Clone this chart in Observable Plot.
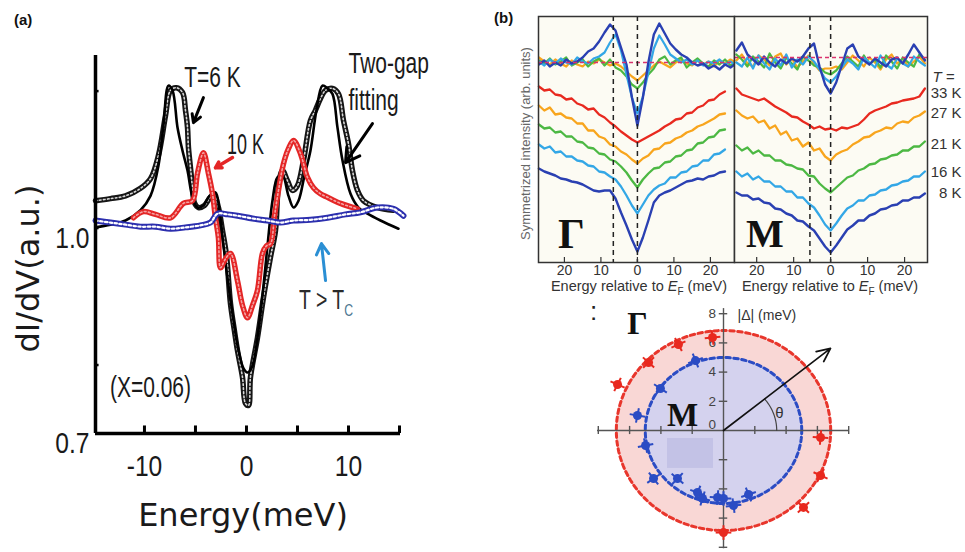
<!DOCTYPE html>
<html><head><meta charset="utf-8">
<script src="https://cdn.jsdelivr.net/npm/d3@7"></script>
<script src="https://cdn.jsdelivr.net/npm/@observablehq/plot@0.6"></script>
<style>
html,body{margin:0;padding:0;background:#fff;}
#fig{position:relative;width:965px;height:552px;overflow:hidden;background:#fff;font-family:"Liberation Sans",Arial,sans-serif;}
#fig > svg{position:absolute;overflow:visible;}
#fig > .ov{position:absolute;white-space:nowrap;}
</style></head><body><div id="fig"></div>
<script>
// ---------------- Panel (a): tunneling spectra ----------------
const t6Data = [[-14.8,1.040],[-13.33,1.043],[-11.86,1.047],[-10.39,1.058],[-9.41,1.072],[-8.63,1.106],[-7.94,1.164],[-7.45,1.201],[-6.86,1.205],[-6.27,1.198],[-5.98,1.172],[-5.78,1.147],[-5.69,1.118],[-5.49,1.088],[-5.29,1.059],[-5.10,1.037],[-4.71,1.030],[-4.12,1.033],[-3.53,1.045],[-3.14,1.047],[-2.75,1.030],[-2.35,0.996],[-1.96,0.960],[-1.57,0.890],[-1.18,0.850],[-0.88,0.821],[-0.39,0.782],[-0.10,0.744],[0.20,0.741],[0.39,0.782],[1.08,0.840],[1.67,0.899],[2.35,0.957],[2.84,0.996],[3.14,1.062],[3.53,1.084],[4.02,1.069],[4.51,1.055],[5.00,1.062],[5.59,1.099],[6.27,1.157],[6.76,1.172],[7.25,1.189],[7.75,1.201],[8.43,1.204],[9.02,1.196],[9.51,1.157],[10.00,1.123],[10.39,1.084],[10.88,1.055],[11.47,1.040],[12.84,1.030],[14.41,1.026]];
const fitData = [[-14.8,1.001],[-13.33,1.005],[-11.86,1.011],[-10.39,1.026],[-9.41,1.047],[-8.63,1.091],[-8.14,1.150],[-7.65,1.208],[-7.25,1.201],[-6.76,1.147],[-6.27,1.113],[-5.78,1.084],[-5.29,1.045],[-4.80,1.030],[-4.22,1.033],[-3.63,1.047],[-3.04,1.052],[-2.65,1.026],[-2.25,0.974],[-1.76,0.916],[-1.27,0.865],[-0.78,0.821],[-0.29,0.795],[0.10,0.789],[0.59,0.799],[1.08,0.840],[1.57,0.901],[2.06,0.974],[2.55,1.040],[3.04,1.074],[3.53,1.077],[4.12,1.047],[4.61,1.030],[5.10,1.040],[5.69,1.077],[6.27,1.113],[6.86,1.172],[7.45,1.208],[7.94,1.204],[8.43,1.196],[8.92,1.147],[9.41,1.099],[10.20,1.050],[10.98,1.030],[11.86,1.021],[13.14,1.011],[14.90,0.999]];
const t10Data = [[-11.08,1.015],[-10.10,1.024],[-8.92,1.020],[-7.45,1.015],[-6.18,1.036],[-5.29,1.040],[-4.80,1.080],[-4.22,1.110],[-3.73,1.080],[-3.33,1.050],[-3.04,1.015],[-2.75,0.986],[-2.55,0.942],[-2.06,0.955],[-1.57,0.963],[-0.88,0.923],[-0.39,0.887],[0.10,0.869],[0.59,0.887],[1.08,0.909],[1.57,0.963],[1.96,0.974],[2.35,0.977],[2.75,1.018],[3.14,1.055],[3.63,1.094],[4.12,1.116],[4.61,1.128],[5.29,1.109],[5.98,1.074],[6.57,1.059],[7.25,1.050],[7.94,1.045],[9.22,1.036],[10.88,1.028]];
const tNormalData = [[-14.8,1.011],[-13.33,1.008],[-11.86,1.005],[-10.39,1.002],[-8.92,1.002],[-7.45,0.999],[-5.98,1.001],[-4.51,1.004],[-3.53,1.008],[-2.84,1.021],[-1.86,1.020],[-0.88,1.018],[0.59,1.014],[2.06,1.011],[3.33,1.008],[4.61,1.011],[6.27,1.012],[7.94,1.015],[9.71,1.020],[11.18,1.023],[12.84,1.030],[14.41,1.028],[15.39,1.018]];
const aXTicks = [-10, -5, 0, 5, 10, 15];
const aXTickLabels = [{v: -10, t: "-10"}, {v: 0, t: "0"}, {v: 10, t: "10"}];
const aYTicks = [0.8, 1.0, 1.2];
const aYTickLabels = [{v: 0.7, t: "0.7"}, {v: 1.0, t: "1.0"}];
const aNotes = [
  {t: "T=6 K", x: -3.33, y: 1.2197, anchor: "middle"},
  {t: "10 K", x: -0.1, y: 1.122, anchor: "middle"},
  {t: "Two-gap", x: 10.0, y: 1.240, anchor: "start"},
  {t: "fitting", x: 10.0, y: 1.186, anchor: "start"},
  {t: "(X=0.06)", x: -9.41, y: 0.767, anchor: "middle"}
];
const aArrowsBlack = [{x1: -4.22, y1: 1.1905, x2: -5.20, y2: 1.154}, {x1: 12.35, y1: 1.1526, x2: 9.71, y2: 1.0956}];
const aArrowsRed = [{x1: -1.37, y1: 1.103, x2: -3.04, y2: 1.088}];
const aArrowsBlue = [{x1: 7.75, y1: 0.9234, x2: 7.35, y2: 0.9774}];

// ---------------- Panel (b): ARPES symmetrized EDCs ----------------
const gammaEnergies = [-27,-25.5,-24,-22.5,-21,-19.5,-18,-16.5,-15,-13.5,-12,-10.5,-9,-7.5,-6,-4.5,-3,-1.5,0,1.5,3,4.5,6,7.5,9,10.5,12,13.5,15,16.5,18,19.5,21,22.5,24];
const gamma33K = [176,172,173,168,167,163,164,159,157,153,154,148,145,140,136,131,127,123,120,123,126,129,132,136,139,143,144,149,150,155,157,162,163,168,171];
const gamma27K = [157,152,155,148,149,145,144,139,139,132,132,126,124,118,116,111,108,103,99,104,107,113,114,119,120,124,126,130,132,136,138,141,144,148,149];
const gamma21K = [138,134,135,130,131,126,126,121,120,115,114,109,108,103,101,96,90,82,75,83,89,94,95,100,101,106,107,112,113,119,120,125,126,132,133];
const gamma16K = [118,114,116,110,111,106,106,102,101,97,96,91,90,86,83,76,67,57,49,58,67,73,77,79,85,85,90,91,96,97,102,102,108,109,113];
const gamma8K = [94,91,89,87,84,83,81,80,78,75,72,71,72,72,64,50,37,23,11,25,42,60,67,70,72,75,78,81,82,84,83,86,87,90,91];
const gammaTopEnergies = [-27,-25.5,-24,-22.5,-21,-19.5,-18,-16.5,-15,-13.5,-12,-10.5,-9,-7.5,-6,-4.5,-3,-1.5,0,1.5,3,4.5,6,7.5,9,10.5,12,13.5,15,16.5,18,19.5,21,22.5,24,25.5,27];
const gammaTopOrange = [205,201,198,203,199,196,202,198,196,201,199,203,200,197,199,196,191,186,182,187,192,197,201,198,195,200,203,199,197,202,198,201,196,202,199,203,200];
const gammaTopGreen = [202,199,204,198,201,205,197,200,203,196,201,204,197,203,195,192,186,178,174,180,188,194,203,206,198,202,205,195,200,204,199,196,202,198,203,197,200];
const gammaTopLightBlue = [201,197,203,199,204,200,198,205,201,199,204,206,210,220,228,212,188,165,149,166,190,214,227,218,208,204,200,203,198,202,197,201,199,203,198,201,197];
const gammaTopDarkBlue = [198,202,196,200,197,203,199,201,205,211,214,221,230,238,232,215,198,165,137,165,200,228,239,229,219,213,208,205,200,197,199,194,197,193,198,195,199];
const gammaBaseline = 200;
const gammaGuides = [-6.6, 0];

const mEnergies = [-25.5,-24,-22.5,-21,-19.5,-18,-16.5,-15,-13.5,-12,-10.5,-9,-7.5,-6,-4.5,-3,-1.5,0,1.5,3,4.5,6,7.5,9,10.5,12,13.5,15,16.5,18,19.5,21,22.5,24,25.5];
const m33K = [174,168,166,164,162,164,160,156,153,150,146,145,141,138,134,136,133,134,132,135,134,136,138,143,149,152,154,156,159,160,162,163,164,166,174];
const m27K = [152,147,144,146,140,142,134,137,128,131,122,124,116,120,112,114,106,102,108,111,113,118,121,125,126,130,132,135,134,139,141,140,145,147,151];
const m21K = [117,112,115,109,112,107,107,102,102,98,97,94,93,87,86,79,74,70,75,80,85,87,92,94,98,99,103,104,107,108,112,112,116,116,121];
const m16K = [91,86,89,83,86,81,81,76,76,71,71,65,65,59,55,47,38,32,39,47,54,57,62,62,67,68,72,73,77,78,81,82,86,86,91];
const m8K = [70,67,67,63,64,60,59,54,53,49,47,42,41,36,32,24,16,10,17,25,33,37,42,42,47,49,53,54,57,58,62,62,65,65,69];
const mTopOrange = [202,208,199,196,207,203,197,206,209,198,204,195,201,207,199,192,194,194,196,193,200,207,202,196,205,200,193,203,208,199,204,196,201,206,199];
const mTopGreen = [208,203,196,206,201,195,209,200,194,205,199,193,206,202,197,195,190,188,192,199,206,201,196,207,198,203,195,207,201,194,205,200,196,208,203];
const mTopLightBlue = [200,196,205,194,207,199,193,204,197,208,195,203,198,206,201,193,184,180,186,195,203,199,193,205,200,195,207,198,194,204,199,196,206,201,197];
const mTopDarkBlue = [212,220,208,203,198,206,200,196,203,199,204,201,206,214,219,196,178,169,180,197,214,218,206,202,198,204,200,196,203,205,199,208,218,210,202];
const mBaseline = 205;
const mGuides = [-5.6, 0];

const bTickValues = [-20, -10, 0, 10, 20];
const bTickLabels = ["20", "10", "0", "10", "20"];
const tempLabels = ["33 K", "27 K", "21 K", "16 K", "8 K"];
const tempLabelLevels = [169, 149, 118, 90, 69];

// ---------------- Polar gap plot ----------------
const gammaGapX = [-0.70,-2.88,-4.79,-6.77,6.20,6.20,5.11,0];
const gammaGapY = [6.37,5.89,4.66,3.15,-0.48,-3.08,-5.27,-6.99];
const mGapX = [-1.79,-4.03,-5.50,-4.98,-4.47,-2.94,-1.66,-1.34,-0.38,0,0.64,1.60];
const mGapY = [4.79,2.88,1.03,-1.03,-3.29,-3.29,-4.25,-4.66,-4.59,-4.66,-5.14,-4.38];
const gammaRingRadius = 6.85;
const mRingRadius = 5.0;
const gapError = 0.5;
const polarTicks = [-8, -6, -4, -2, 2, 4, 6, 8];
const polarTickLabels = [8, 6, 4, 2];
const thetaArrowTip = {x: 6.84, y: 5.62};

// ---------------- helpers ----------------
const SANS = "'Liberation Sans',Arial,sans-serif";
const DJV = "'DejaVu Sans',sans-serif";
const SERIF = "'Liberation Serif','DejaVu Serif',serif";
const fig = document.getElementById("fig");
function place(svg, left, top) { svg.style.left = left + "px"; svg.style.top = top + "px"; fig.appendChild(svg); }
function addDiv(html, style) { const d = document.createElement("div"); d.className = "ov"; d.innerHTML = html; Object.assign(d.style, style); fig.appendChild(d); }
const pairs = arr => arr.map(([x, y]) => ({x, y}));
const series = (xs, ys) => xs.map((x, i) => ({x, y: ys[i]}));
// horizontally condense the glyphs of one mark (the reference uses a condensed face)
function squeeze(svg, tag, k) {
  svg.querySelectorAll(`g[aria-description="${tag}"] text`).forEach(t => {
    const tr = t.getAttribute("transform");
    if (tr) t.setAttribute("transform", tr + ` scale(${k},1)`);
    else {
      const x = +t.getAttribute("x") || 0, y = +t.getAttribute("y") || 0;
      t.setAttribute("transform", `translate(${x},${y}) scale(${k},1) translate(${-x},${-y})`);
    }
  });
}

// ---------------- Panel (a) ----------------
const aX = [-14.8, 15.1], aY = [0.7, 1.252];
function chain(data, outer, inner, w, iw, dash) {
  return [
    Plot.line(data, {x: "x", y: "y", stroke: outer, strokeWidth: w, curve: "catmull-rom"}),
    Plot.line(data, {x: "x", y: "y", stroke: inner, strokeWidth: iw, strokeDasharray: dash, curve: "catmull-rom"})
  ];
}
const plotA = Plot.plot({
  width: 480, height: 552, marginTop: 55, marginBottom: 119, marginLeft: 95, marginRight: 80,
  x: {domain: aX, axis: null}, y: {domain: aY, axis: null},
  style: {background: "transparent", overflow: "visible"},
  marks: [
    ...chain(pairs(t6Data), "#151515", "#d8d8d8", 5.5, 1.6, "1.6,2.4"),
    Plot.line(pairs(fitData), {x: "x", y: "y", stroke: "#000", strokeWidth: 2.6, curve: "catmull-rom"}),
    ...chain(pairs(t10Data), "#e42626", "#f4a3a3", 5.5, 1.6, "1.8,2.4"),
    ...chain(pairs(tNormalData), "#2c2fae", "#ffffff", 6, 2.2, "2.4,2.4"),
    Plot.ruleX([aX[0]], {y1: aY[0], y2: aY[1], stroke: "#000", strokeWidth: 3.5}),
    Plot.ruleY([aY[0]], {x1: aX[0], x2: aX[1], stroke: "#000", strokeWidth: 3.5}),
    Plot.ruleX(aXTicks, {y1: 0.7, y2: 0.711, stroke: "#000", strokeWidth: 3}),
    Plot.ruleY(aYTicks, {x1: aX[0], x2: aX[0] + 0.35, stroke: "#000", strokeWidth: 2.5}),
    Plot.text(aXTickLabels, {ariaDescription: "nar85", x: "v", y: 0.7, text: "t", dy: 33, fontSize: 30, fontFamily: SANS, fill: "#1a1a1a"}),
    Plot.text(aYTickLabels, {ariaDescription: "nar85", x: aX[0], y: "v", text: "t", textAnchor: "end", dx: -6, dy: 10, fontSize: 30, fontFamily: SANS, fill: "#1a1a1a"}),
    Plot.text(["Energy(meV)"], {text: d => d, frameAnchor: "bottom", lineAnchor: "middle", textAnchor: "middle", dx: -5, dy: 82, fontSize: 32, fontFamily: DJV, fill: "#1a1a1a"}),
    Plot.text(["dI/dV(a.u.)"], {text: d => d, frameAnchor: "left", textAnchor: "middle", lineAnchor: "middle", rotate: -90, dx: -67, dy: 24, fontSize: 32, fontFamily: DJV, fill: "#1a1a1a"}),
    Plot.text(aNotes.filter(d => d.t === "T=6 K" || d.t === "(X=0.06)"), {ariaDescription: "nar70", x: "x", y: "y", text: "t", fontSize: 30, fontFamily: SANS, fill: "#1a1a1a"}),
    Plot.text(aNotes.filter(d => d.t === "10 K"), {ariaDescription: "nar60", x: "x", y: "y", text: "t", fontSize: 29, fontFamily: SANS, fill: "#1a1a1a"}),
    Plot.text(aNotes.filter(d => d.anchor === "start"), {ariaDescription: "nar70", x: "x", y: "y", text: "t", textAnchor: "start", fontSize: 30, fontFamily: SANS, fill: "#1a1a1a"}),
    Plot.arrow(aArrowsBlack, {x1: "x1", y1: "y1", x2: "x2", y2: "y2", stroke: "#000", strokeWidth: 3, headLength: 11}),
    Plot.arrow(aArrowsRed, {x1: "x1", y1: "y1", x2: "x2", y2: "y2", stroke: "#e42626", strokeWidth: 3.5, headLength: 11}),
    Plot.arrow(aArrowsBlue, {x1: "x1", y1: "y1", x2: "x2", y2: "y2", stroke: "#2b8fd4", strokeWidth: 3, headLength: 10})
  ]
});
squeeze(plotA, "nar85", 0.82);
squeeze(plotA, "nar70", 0.7);
squeeze(plotA, "nar60", 0.62);
place(plotA, 0, 0);

// ---------------- Panel (b) EDCs ----------------
const C = {red: "#e8291f", orange: "#f8a51d", green: "#4cb843", light: "#33a7e6", dark: "#2a40b2"};
function edcMarks(energies, offs, topE, tops, baseline, guides) {
  const [r, o, g, l, d] = offs;
  const [to, tg, tl, td] = tops;
  return [
    Plot.frame({fill: "#fcfbf3", stroke: "none"}),
    Plot.line(series(topE, to), {x: "x", y: "y", stroke: C.orange, strokeWidth: 2.2, clip: true}),
    Plot.line(series(topE, tg), {x: "x", y: "y", stroke: C.green, strokeWidth: 2.2, clip: true}),
    Plot.line(series(topE, tl), {x: "x", y: "y", stroke: C.light, strokeWidth: 2.2, clip: true}),
    Plot.line(series(topE, td), {x: "x", y: "y", stroke: C.dark, strokeWidth: 2.4, clip: true}),
    Plot.ruleY([baseline], {stroke: "#d9326e", strokeWidth: 1.4, strokeDasharray: "4,3"}),
    Plot.line(series(energies, r), {x: "x", y: "y", stroke: C.red, strokeWidth: 2.3}),
    Plot.line(series(energies, o), {x: "x", y: "y", stroke: C.orange, strokeWidth: 2.3}),
    Plot.line(series(energies, g), {x: "x", y: "y", stroke: C.green, strokeWidth: 2.3}),
    Plot.line(series(energies, l), {x: "x", y: "y", stroke: C.light, strokeWidth: 2.3}),
    Plot.line(series(energies, d), {x: "x", y: "y", stroke: C.dark, strokeWidth: 2.4}),
    Plot.ruleX(guides, {stroke: "#222", strokeWidth: 1.5, strokeDasharray: "5,4"}),
    Plot.ruleX(bTickValues, {y1: 0, y2: 5, stroke: "#333", strokeWidth: 1.2}),
    Plot.frame({stroke: "#333", strokeWidth: 1.5}),
    Plot.text(bTickValues, {x: d => d, y: 0, text: (d, i) => bTickLabels[i], dy: 8, fontSize: 14, fontFamily: SANS, fill: "#333"})
  ];
}
const plotG = Plot.plot({
  width: 260, height: 300, marginTop: 16, marginBottom: 38, marginLeft: 58, marginRight: 6,
  x: {domain: [-27.1, 26.6], axis: null}, y: {domain: [0, 246], axis: null},
  style: {background: "transparent", overflow: "visible"},
  marks: [
    ...edcMarks(gammaEnergies, [gamma33K, gamma27K, gamma21K, gamma16K, gamma8K], gammaTopEnergies,
      [gammaTopOrange, gammaTopGreen, gammaTopLightBlue, gammaTopDarkBlue], gammaBaseline, gammaGuides),
    Plot.text(["Γ"], {text: d => d, x: -18.1, y: 28, fontSize: 42, fontWeight: "bold", fontFamily: SERIF, fill: "#111"}),
    Plot.text(["Symmetrized intensity (arb. units)"], {text: d => d, frameAnchor: "left", textAnchor: "middle", lineAnchor: "middle", rotate: -90, dx: -13, dy: 4, fontSize: 13, fontFamily: SANS, fill: "#666"})
  ]
});
place(plotG, 480, 0);

const plotM = Plot.plot({
  width: 231, height: 300, marginTop: 16, marginBottom: 38, marginLeft: 0, marginRight: 38,
  x: {domain: [-26, 26.2], axis: null}, y: {domain: [0, 246], axis: null},
  style: {background: "transparent", overflow: "visible"},
  marks: [
    ...edcMarks(mEnergies, [m33K, m27K, m21K, m16K, m8K], mEnergies,
      [mTopOrange, mTopGreen, mTopLightBlue, mTopDarkBlue], mBaseline, mGuides),
    Plot.text(["M"], {text: d => d, x: -17.8, y: 28, fontSize: 40, fontWeight: "bold", fontFamily: SERIF, fill: "#111"}),
    Plot.text(tempLabels, {text: d => d, frameAnchor: "right", y: (d, i) => tempLabelLevels[i], textAnchor: "end", dx: 34, fontSize: 15, fontFamily: SANS, fill: "#333"}),
    Plot.text(["T ="], {text: d => d, frameAnchor: "right", y: 185, textAnchor: "end", dx: 27, fontSize: 15, fontStyle: "italic", fontFamily: SANS, fill: "#333"})
  ]
});
place(plotM, 734, 0);

// ---------------- Polar plot ----------------
function ring(rad) { return d3.range(0, 361, 3).map(a => ({x: rad * Math.cos(a * Math.PI / 180), y: rad * Math.sin(a * Math.PI / 180)})); }
function crosses(xs, ys, e) {
  const segs = [];
  xs.forEach((x, i) => {
    const y = ys[i], r = Math.hypot(x, y) || 1, ux = x / r, uy = y / r;
    segs.push({x1: x - e * ux, y1: y - e * uy, x2: x + e * ux, y2: y + e * uy});
    segs.push({x1: x + e * uy, y1: y - e * ux, x2: x - e * uy, y2: y + e * ux});
  });
  return segs;
}
const thetaAngle = Math.atan2(thetaArrowTip.y, thetaArrowTip.x);
const arc = d3.range(0, 41).map(k => { const t = thetaAngle * k / 40; return {x: 3.4 * Math.cos(t), y: 3.4 * Math.sin(t)}; });
const plotP = Plot.plot({
  width: 300, height: 257, marginTop: 0, marginBottom: 0, marginLeft: 0, marginRight: 0,
  x: {domain: [-143 / 15.65, 157 / 15.65], axis: null}, y: {domain: [-122 / 14.6, 135 / 14.6], axis: null},
  style: {background: "transparent", overflow: "visible"},
  marks: [
    Plot.line(ring(gammaRingRadius), {x: "x", y: "y", fill: "#f9d7d5", stroke: "#e8362c", strokeWidth: 3, strokeDasharray: "4.5,3.5"}),
    Plot.line(ring(mRingRadius), {x: "x", y: "y", fill: "#d4d2ee", stroke: "#2b4cc4", strokeWidth: 3, strokeDasharray: "4.5,3.5"}),
    Plot.rect([{x1: -3.58, x2: -0.64, y1: -2.6, y2: -0.55}], {x1: "x1", x2: "x2", y1: "y1", y2: "y2", fill: "#c3c2e6"}),
    Plot.ruleY([0], {x1: -8.05, x2: 8.0, stroke: "#555", strokeWidth: 1.4}),
    Plot.ruleX([0], {y1: -8.1, y2: 8.35, stroke: "#555", strokeWidth: 1.4}),
    Plot.ruleX(polarTicks, {y1: -0.28, y2: 0.28, stroke: "#555", strokeWidth: 1.4}),
    Plot.ruleY(polarTicks, {x1: -0.27, x2: 0.27, stroke: "#555", strokeWidth: 1.4}),
    Plot.text(polarTickLabels, {x: -0.72, y: d => d, text: d => String(d), fontSize: 13.5, fontFamily: SANS, fill: "#444"}),
    Plot.text([0], {x: -0.72, y: 0, text: d => String(d), dy: -6, fontSize: 13.5, fontFamily: SANS, fill: "#444"}),
    Plot.text(["|Δ| (meV)"], {text: d => d, x: 0.9, y: 7.9, textAnchor: "start", fontSize: 14, fontFamily: SANS, fill: "#333"}),
    Plot.line(arc, {x: "x", y: "y", stroke: "#444", strokeWidth: 1.2}),
    Plot.arrow([thetaArrowTip], {x1: 0, y1: 0, x2: "x", y2: "y", stroke: "#111", strokeWidth: 1.7, headLength: 13, headAngle: 50}),
    Plot.text(["θ"], {text: d => d, x: 3.58, y: 1.16, fontSize: 15, fontFamily: SANS, fill: "#333"}),
    Plot.link(crosses(gammaGapX, gammaGapY, gapError), {x1: "x1", y1: "y1", x2: "x2", y2: "y2", stroke: "#e8291f", strokeWidth: 2}),
    Plot.dot(series(gammaGapX, gammaGapY), {x: "x", y: "y", r: 4.5, fill: "#e8291f"}),
    Plot.link(crosses(mGapX, mGapY, gapError), {x1: "x1", y1: "y1", x2: "x2", y2: "y2", stroke: "#2b4cc4", strokeWidth: 2}),
    Plot.dot(series(mGapX, mGapY), {x: "x", y: "y", r: 4.5, fill: "#2b4cc4"}),
    Plot.text(["Γ"], {text: d => d, x: -5.5, y: 7.33, fontSize: 32, fontWeight: "bold", fontFamily: SERIF, fill: "#111"}),
    Plot.text(["M"], {text: d => d, x: -2.62, y: 1.03, fontSize: 33, fontWeight: "bold", fontFamily: SERIF, fill: "#111"})
  ]
});
place(plotP, 580, 295);

// ---------------- overlay texts ----------------
addDiv("(a)", {left: "14px", top: "11px", fontSize: "15px", fontWeight: "bold", fontFamily: SANS, color: "#111", lineHeight: "18px"});
addDiv("(b)", {left: "494px", top: "9px", fontSize: "15px", fontWeight: "bold", fontFamily: SANS, color: "#111", lineHeight: "18px"});
addDiv('T &gt; T<span style="font-size:17px;position:relative;top:7px;color:#4d7791">C</span>', {left: "299px", top: "285px", fontSize: "27px", fontFamily: SANS, color: "#2a2a2a", lineHeight: "30px", transform: "scaleX(0.72)", transformOrigin: "left center"});
addDiv('Energy relative to <i>E</i><sub style="font-size:10px;line-height:0">F</sub> (meV)', {left: "539px", top: "279px", width: "200px", textAlign: "center", fontSize: "14.5px", fontFamily: SANS, color: "#333", lineHeight: "15px"});
addDiv('Energy relative to <i>E</i><sub style="font-size:10px;line-height:0">F</sub> (meV)', {left: "730px", top: "279px", width: "200px", textAlign: "center", fontSize: "14.5px", fontFamily: SANS, color: "#333", lineHeight: "15px"});
addDiv(":", {left: "590px", top: "296px", fontSize: "26px", fontFamily: SANS, color: "#222", lineHeight: "30px"});
</script></body></html>
